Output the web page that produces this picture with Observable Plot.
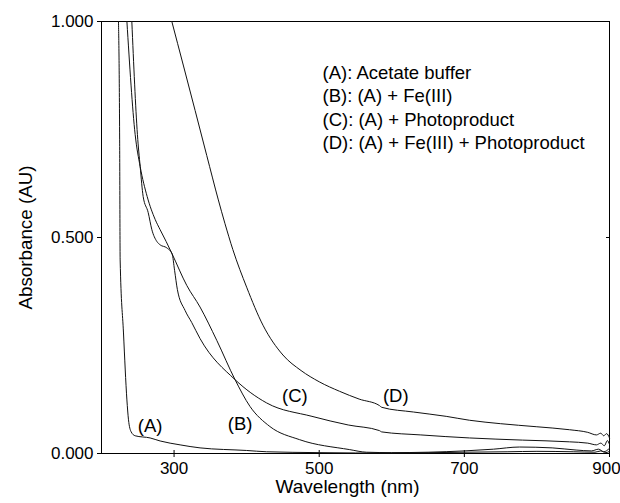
<!DOCTYPE html>
<html><head><meta charset="utf-8">
<script src="https://cdn.jsdelivr.net/npm/d3@7"></script>
<script src="https://cdn.jsdelivr.net/npm/@observablehq/plot@0.6"></script>
<style>body{margin:0;background:#fff;} svg{font-family:"Liberation Sans",Arial,sans-serif;}</style>
</head><body><div id="chart"></div>
<script>
// (A) Acetate buffer
const aWl  = [223.4, 225, 225.7, 230.3, 235, 237.2, 240.9, 246.4, 267, 280.8, 308.3, 335.8, 400, 427.6, 500, 600, 700, 760, 800, 850, 880, 888, 895, 900];
const aAbs = [1.0, 0.726, 0.448, 0.279, 0.124, 0.078, 0.050, 0.041, 0.036, 0.029, 0.020, 0.013, 0.007, 0.004, 0.002, 0.001, 0.003, 0.004, 0.005, 0.004, 0.003, 0.006, 0.002, 0.005];
// (B) (A) + Fe(III)
const bWl  = [235, 246.4, 253.3, 262.9, 273.9, 280.8, 289, 297.3, 317.5, 335.8, 358.8, 384, 404.6, 432, 473, 542, 565, 600, 650, 700, 740, 776, 821, 854, 875, 885, 892, 900];
const bAbs = [1.0, 0.738, 0.664, 0.595, 0.542, 0.518, 0.491, 0.462, 0.389, 0.339, 0.262, 0.171, 0.109, 0.0625, 0.032, 0.009, 0.003, 0.002, 0.003, 0.006, 0.010, 0.015, 0.013, 0.008, 0.006, 0.010, 0.004, 0.012];
// (C) (A) + Photoproduct
const cWl  = [241.8, 249.5, 253.3, 257.4, 264.3, 269.4, 276.2, 280.8, 290, 297.3, 300.7, 304.5, 315.2, 324.4, 335.8, 384, 427.6, 490, 540, 583, 586, 640, 707, 780, 845, 870, 882, 888, 893, 897, 900];
const cAbs = [1.0, 0.738, 0.664, 0.595, 0.558, 0.518, 0.491, 0.483, 0.476, 0.462, 0.424, 0.380, 0.331, 0.303, 0.266, 0.171, 0.117, 0.086, 0.066, 0.053, 0.050, 0.043, 0.036, 0.031, 0.027, 0.024, 0.020, 0.024, 0.018, 0.030, 0.021];
// (D) (A) + Fe(III) + Photoproduct
const dWl  = [296.9, 313, 329, 345, 361, 370, 381, 400, 422.5, 450, 475, 500, 528, 555, 583, 586, 630, 675, 707, 750, 799, 845, 870, 882, 888, 892, 896, 900];
const dAbs = [1.0, 0.897, 0.794, 0.690, 0.587, 0.533, 0.472, 0.385, 0.297, 0.228, 0.192, 0.166, 0.144, 0.126, 0.111, 0.107, 0.096, 0.086, 0.077, 0.069, 0.062, 0.055, 0.049, 0.043, 0.047, 0.041, 0.046, 0.036];

const seriesKeys = ["A", "B", "C", "D"];
const seriesWl = [aWl, bWl, cWl, dWl];
const seriesAbs = [aAbs, bAbs, cAbs, dAbs];

const curveLabels = ["(A)", "(B)", "(C)", "(D)"];
const curveLabelWl = [267, 391, 466.5, 605.5];
const curveLabelAbs = [0.0625, 0.069, 0.134, 0.132];

const legendLines = [
  "(A): Acetate buffer",
  "(B): (A) + Fe(III)",
  "(C): (A) + Photoproduct",
  "(D): (A) + Fe(III) + Photoproduct"
];

const xTicks = [300, 500, 700, 900];
const yTicks = [0, 0.5, 1.0];

const rows = seriesKeys.flatMap((k, s) => seriesWl[s].map((w, i) => ({series: k, wl: w, abs: seriesAbs[s][i]})));
const labelRows = curveLabels.map((t, i) => ({t, wl: curveLabelWl[i], abs: curveLabelAbs[i]}));

const chart = Plot.plot({
  width: 620,
  height: 503,
  marginLeft: 101,
  marginRight: 11,
  marginTop: 21,
  marginBottom: 50,
  style: {fontFamily: '"Liberation Sans", Arial, sans-serif', background: "#fff", color: "#000"},
  x: {domain: [200, 900]},
  y: {domain: [0, 1]},
  marks: [
    Plot.frame({stroke: "#000", strokeWidth: 1}),
    Plot.axisX({ticks: xTicks, tickSize: 4, text: null, label: null}),
    Plot.axisX({ticks: xTicks, tickSize: -3, text: null, label: null}),
    Plot.axisX({ticks: xTicks.slice(0, 3), tickSize: 0, tickPadding: 8, fontSize: 17, label: null, tickFormat: d3.format("d")}),
    Plot.axisX({ticks: xTicks.slice(3), tickSize: 0, tickPadding: 8, dx: -3, fontSize: 17, label: null, tickFormat: d3.format("d")}),
    Plot.axisY({ticks: yTicks, tickSize: 4, tickPadding: 4, fontSize: 17, label: null, tickFormat: d3.format(".3f")}),
    Plot.axisY({anchor: "right", ticks: [0.5], tickSize: -4, text: null, label: null}),
    Plot.line(rows, {x: "wl", y: "abs", z: "series", stroke: "#111", strokeWidth: 1, curve: "monotone-x"}),
    Plot.text(labelRows, {x: "wl", y: "abs", text: "t", fontSize: 18.5, fill: "#000"}),
    Plot.text([legendLines.join("\n")], {frameAnchor: "top-left", dx: 221, dy: 41, textAnchor: "start", lineAnchor: "top", lineHeight: 1.26, fontSize: 18.5, fill: "#000"}),
    Plot.text(["Wavelength (nm)"], {frameAnchor: "bottom", dx: -8, dy: 39.5, fontSize: 19, fill: "#000"}),
    Plot.text(["Absorbance (AU)"], {frameAnchor: "left", dx: -76, rotate: -90, textAnchor: "middle", fontSize: 18.8, fill: "#000"})
  ]
});
document.getElementById("chart").append(chart);
</script>
</body></html>
